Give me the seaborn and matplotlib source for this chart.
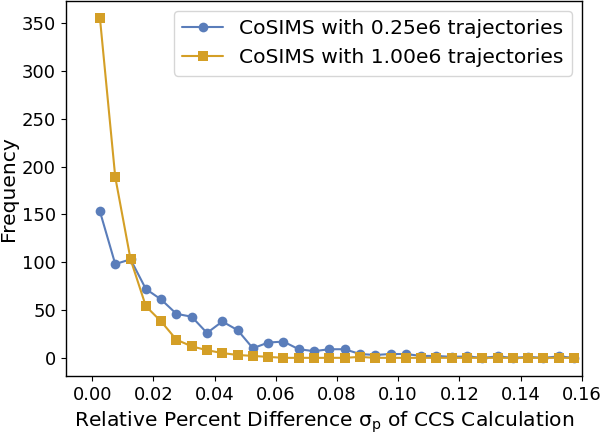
import numpy as np
import pandas as pd
import matplotlib
matplotlib.use("Agg")
import matplotlib.pyplot as plt
import seaborn as sns

sns.set_style("ticks")
plt.rcParams['font.family'] = ['DejaVu Sans']
plt.rcParams['text.color'] = 'black'
plt.rcParams['axes.labelcolor'] = 'black'
plt.rcParams['xtick.color'] = 'black'
plt.rcParams['ytick.color'] = 'black'

bin_centers = [0.0025, 0.0075, 0.0125, 0.0175, 0.0225, 0.0275, 0.0325, 0.0375,
               0.0425, 0.0475, 0.0525, 0.0575, 0.0625, 0.0675, 0.0725, 0.0775,
               0.0825, 0.0875, 0.0925, 0.0975, 0.1025, 0.1075, 0.1125, 0.1175,
               0.1225, 0.1275, 0.1325, 0.1375, 0.1425, 0.1475, 0.1525, 0.1575]
freq_025e6 = [153, 98, 103, 72, 61, 46, 43, 26, 38, 29, 10, 16, 17, 9, 7, 9,
              9, 4, 3, 4, 4, 2, 2, 1, 1.5, 0, 1.5, 0, 1, 0, 1.5, 0]
freq_100e6 = [355, 189, 103, 54, 38, 19, 12, 8, 5, 3, 2, 1, 0, 0, 0, 0,
              0, 1, 0, 0, 0, 0, 0, 0, 0, 0, 0, 0, 0, 0, 0, 0]
labels = ["CoSIMS with 0.25e6 trajectories", "CoSIMS with 1.00e6 trajectories"]

blue = "#5a7dba"
gold = "#d49f26"

fig = plt.figure(figsize=(6.0, 4.34), dpi=100)
ax = fig.add_axes([0.1095, 0.1336, 0.86, 0.864])

sns.lineplot(x=bin_centers, y=freq_025e6, ax=ax, color=blue, marker="o",
             markersize=7, markeredgewidth=0, linewidth=1.5, label=labels[0])
sns.lineplot(x=bin_centers, y=freq_100e6, ax=ax, color=gold, marker="s",
             markersize=7, markeredgewidth=0, linewidth=1.5, label=labels[1])

ax.set_xlim(-0.0087, 0.16)
ax.set_ylim(-19, 373)
ax.set_xticks(np.arange(0, 0.161, 0.02))
ax.set_xticklabels([f"{v:.2f}" for v in np.arange(0, 0.161, 0.02)])
ax.set_yticks(np.arange(0, 351, 50))
ax.tick_params(labelsize=13, color="black")
for s in ax.spines.values():
    s.set_color("black")
    s.set_linewidth(1.0)

ax.set_xlabel(r"Relative Percent Difference $\mathregular{\sigma_p}$ of CCS Calculation", fontsize=14.6)
ax.set_ylabel("Frequency", fontsize=14.6, labelpad=3)
ax.legend(loc="upper right", fontsize=14.6, frameon=True)

fig.savefig("out.png", dpi=100)
